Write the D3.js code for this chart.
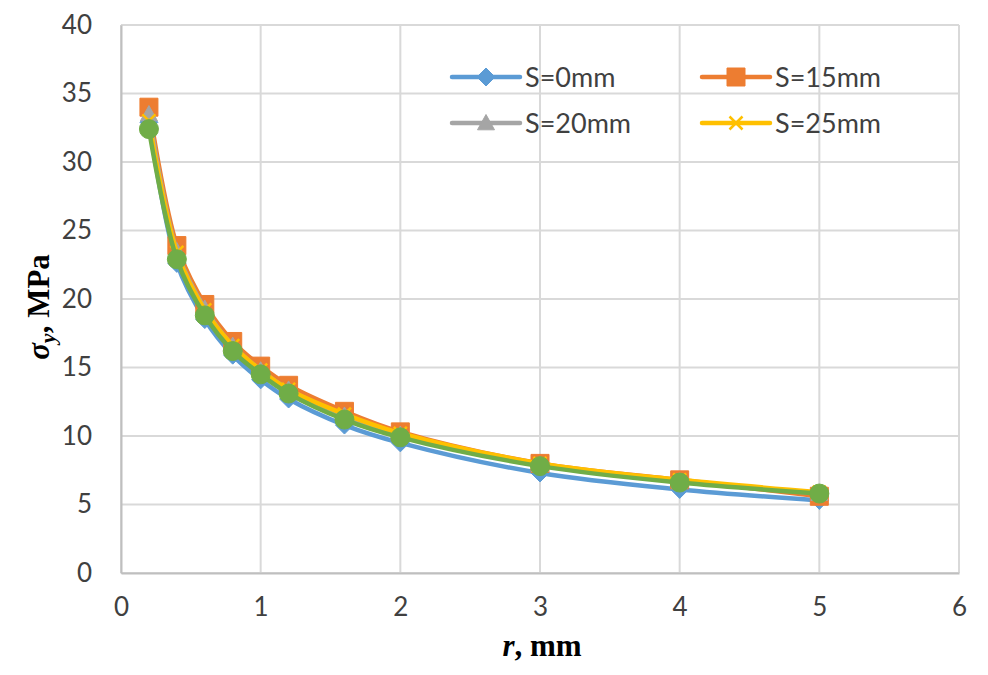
<!DOCTYPE html>
<html><head><meta charset="utf-8">
<script src="https://cdn.jsdelivr.net/npm/d3@7"></script>
<style>body{margin:0;background:#fff}svg{display:block}</style>
</head><body>
<svg id="c" width="988" height="675"></svg>
<script>
const rValues = [0.2, 0.4, 0.6, 0.8, 1.0, 1.2, 1.6, 2, 3, 4, 5];
const s0  = [32.9, 22.6, 18.5, 15.9, 14.1, 12.7, 10.8, 9.5, 7.3, 6.1, 5.3];
const s15 = [34.0, 23.9, 19.6, 16.9, 15.1, 13.7, 11.8, 10.3, 8.0, 6.8, 5.6];
const s20 = [33.5, 23.5, 19.3, 16.6, 14.8, 13.4, 11.5, 10.1, 7.9, 6.7, 5.8];
const s25 = [33.0, 23.4, 19.2, 16.6, 14.8, 13.4, 11.6, 10.2, 8.0, 6.8, 5.9];
const s30 = [32.4, 22.9, 18.8, 16.2, 14.5, 13.1, 11.2, 9.9, 7.8, 6.6, 5.8];
const seriesNames = ["S=0mm", "S=15mm", "S=20mm", "S=25mm", ""];
const xTicks = [0, 1, 2, 3, 4, 5, 6];
const yTicks = [0, 5, 10, 15, 20, 25, 30, 35, 40];

const series = [
  {name: seriesNames[0], vals: s0,  color: "#5B9BD5", marker: "diamond", legend: true},
  {name: seriesNames[1], vals: s15, color: "#ED7D31", marker: "square", legend: true},
  {name: seriesNames[2], vals: s20, color: "#A5A5A5", marker: "triangle", legend: true},
  {name: seriesNames[3], vals: s25, color: "#FFC000", marker: "x", legend: true},
  {name: seriesNames[4], vals: s30, color: "#70AD47", marker: "circle", legend: false}
];

const svg = d3.select("#c");
const L = 121, R = 959, T = 25, B = 573;
const x = d3.scaleLinear().domain([0, 6]).range([L, R]);
const y = d3.scaleLinear().domain([0, 40]).range([B, T]);

// gridlines
svg.append("g").selectAll("line").data(yTicks).join("line")
  .attr("x1", L).attr("x2", R).attr("y1", d => y(d)).attr("y2", d => y(d))
  .attr("stroke", "#d9d9d9").attr("stroke-width", 2);
svg.append("g").selectAll("line").data(xTicks).join("line")
  .attr("y1", T).attr("y2", B).attr("x1", d => x(d)).attr("x2", d => x(d))
  .attr("stroke", "#d9d9d9").attr("stroke-width", 2);

// axes
const yAxis = svg.append("g").attr("transform", `translate(${L},0)`)
  .call(d3.axisLeft(y).tickValues(yTicks).tickFormat(d3.format("d")).tickSize(0).tickPadding(29));
const xAxis = svg.append("g").attr("transform", `translate(0,${B})`)
  .call(d3.axisBottom(x).tickValues(xTicks).tickFormat(d3.format("d")).tickSize(0).tickPadding(25));
[yAxis, xAxis].forEach(a => {
  a.select(".domain").attr("stroke", "#bfbfbf").attr("stroke-width", 2);
  a.selectAll("text").attr("font-family", "Lato, 'Open Sans', sans-serif")
    .attr("font-size", 26).attr("fill", "#404040");
});

// symbols
function markerPath(type, s) {
  const h = s / 2;
  if (type === "diamond") return `M0,${-h}L${h},0L0,${h}L${-h},0Z`;
  if (type === "square") return d3.symbol(d3.symbolSquare, s * s)();
  if (type === "triangle") return `M0,${-h}L${h},${h * 0.8}L${-h},${h * 0.8}Z`;
  if (type === "circle") return d3.symbol(d3.symbolCircle, Math.PI * s * s / 4)();
  if (type === "x") return `M${-h},${-h}L${h},${h}M${-h},${h}L${h},${-h}`;
}
const sizes = {diamond: 18, square: 18, triangle: 17, x: 13, circle: 19};

const line = d3.line().x((d, i) => x(rValues[i])).y(d => y(d)).curve(d3.curveCatmullRom.alpha(0.5));
series.forEach(s => {
  const g = svg.append("g");
  g.append("path").attr("d", line(s.vals)).attr("fill", "none")
    .attr("stroke", s.color).attr("stroke-width", 4.5).attr("stroke-linejoin", "round").attr("stroke-linecap", "round");
  g.selectAll("path.m").data(s.vals).join("path").attr("class", "m")
    .attr("transform", (d, i) => `translate(${x(rValues[i])},${y(d)})`)
    .attr("d", markerPath(s.marker, sizes[s.marker]))
    .attr("fill", s.marker === "x" ? "none" : s.color)
    .attr("stroke", s.color).attr("stroke-width", s.marker === "x" ? 2.5 : 1);
});

// legend
const legendItems = series.filter(s => s.legend);
const legPos = [[452, 77], [702, 77], [452, 123], [702, 123]];
legendItems.forEach((s, i) => {
  const [lx, ly] = legPos[i];
  const g = svg.append("g").attr("transform", `translate(${lx},${ly})`);
  g.append("line").attr("x1", 0).attr("x2", 68).attr("y1", 0).attr("y2", 0)
    .attr("stroke", s.color).attr("stroke-width", 4.5).attr("stroke-linecap", "round");
  g.append("path").attr("transform", "translate(34,0)")
    .attr("d", markerPath(s.marker, sizes[s.marker]))
    .attr("fill", s.marker === "x" ? "none" : s.color)
    .attr("stroke", s.color).attr("stroke-width", s.marker === "x" ? 2.5 : 1);
  g.append("text").attr("x", 73).attr("y", 10).text(s.name)
    .attr("font-family", "Lato, 'Open Sans', sans-serif").attr("font-size", 27).attr("fill", "#404040");
});

// axis titles
const xt = svg.append("text").attr("x", 542).attr("y", 656).attr("text-anchor", "middle")
  .attr("font-family", "'Liberation Serif', 'Times New Roman', serif").attr("font-size", 31).attr("font-weight", "bold");
xt.append("tspan").attr("font-style", "italic").text("r");
xt.append("tspan").text(", mm");

const yt = svg.append("text").attr("transform", "translate(49,307) rotate(-90)").attr("text-anchor", "middle")
  .attr("font-family", "'Liberation Serif', 'Times New Roman', serif").attr("font-size", 31).attr("font-weight", "bold");
yt.append("tspan").attr("font-style", "italic").text("σ");
yt.append("tspan").attr("font-style", "italic").attr("font-size", 22).attr("dy", 6).text("y");
yt.append("tspan").attr("dy", -6).text(", MPa");
</script>
</body></html>
